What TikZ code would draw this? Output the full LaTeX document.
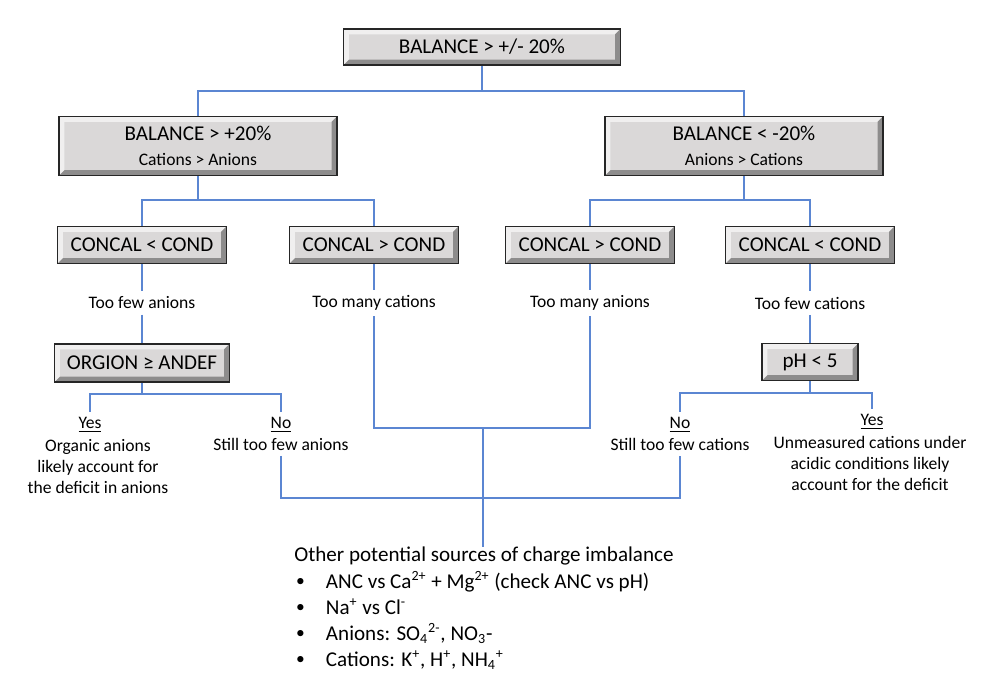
\documentclass[tikz,border=0pt]{standalone}
\usepackage{fontspec}
\setmainfont{Carlito}
\usepackage{tikz}

\definecolor{boxfill}{HTML}{DAD8D8}
\definecolor{linkblue}{HTML}{5B86D2}

\newcommand{\blt}{\makebox[18pt][l]{\hspace{1pt}\raisebox{0.6pt}{\fontsize{10}{10}\selectfont\textbullet}}}

\tikzset{
  box/.style={draw=black!85, line width=1pt, fill=boxfill, align=center,
    font=\fontsize{12}{14}\selectfont, inner sep=2pt,
    path picture={
      \coordinate (bnw) at (path picture bounding box.north west);
      \coordinate (bne) at (path picture bounding box.north east);
      \coordinate (bsw) at (path picture bounding box.south west);
      \coordinate (bse) at (path picture bounding box.south east);
      \fill[white,opacity=.6] (bnw) -- (bne) -- ([shift={(-3pt,-3pt)}]bne)
        -- ([shift={(3pt,-3pt)}]bnw) -- ([shift={(3pt,3pt)}]bsw) -- (bsw) -- cycle;
      \fill[black,opacity=.35] (bse) -- (bne) -- ([shift={(-3pt,-3pt)}]bne)
        -- ([shift={(-3pt,3pt)}]bse) -- ([shift={(3pt,3pt)}]bsw) -- (bsw) -- cycle;
    }},
  lbl/.style={align=center, font=\fontsize{10}{12}\selectfont, inner sep=3pt},
  link/.style={draw=linkblue, line width=0.6pt}
}

\begin{document}
\begin{tikzpicture}[x=0.02cm, y=-0.02cm]
    \useasboundingbox (0, 0) rectangle (992, 680);

    % decision boxes
    \node[box, minimum width=5.54cm, minimum height=0.72cm] (top) at (482, 47) {BALANCE > +/- 20\%};
    \node[box, minimum width=5.56cm, minimum height=1.18cm] (bpos) at (198, 146)
        {BALANCE > +20\%\\{\fontsize{10}{12}\selectfont Cations > Anions}};
    \node[box, minimum width=5.56cm, minimum height=1.18cm] (bneg) at (744, 146)
        {BALANCE < -20\%\\{\fontsize{10}{12}\selectfont Anions > Cations}};

    \node[box, minimum width=3.38cm, minimum height=0.74cm] (cless1) at (142, 245) {CONCAL < COND};
    \node[box, minimum width=3.38cm, minimum height=0.74cm] (cmore1) at (374, 245) {CONCAL > COND};
    \node[box, minimum width=3.38cm, minimum height=0.74cm] (cmore2) at (590, 245) {CONCAL > COND};
    \node[box, minimum width=3.38cm, minimum height=0.74cm] (cless2) at (810, 245) {CONCAL < COND};

    \node[lbl] (fewan) at (142, 303) {Too few anions};
    \node[lbl] (manycat) at (374, 303) {Too many cations};
    \node[lbl] (manyan) at (590, 303) {Too many anions};
    \node[lbl] (fewcat) at (810, 303) {Too few cations};

    \node[box, minimum width=3.5cm, minimum height=0.76cm] (orgion) at (142, 363) {ORGION ≥ ANDEF};
    \node[box, minimum width=1.92cm, minimum height=0.74cm] (ph) at (810, 362) {pH < 5};

    % outcomes
    \node[lbl] (yesan) at (90, 425) {\underline{Yes}};
    \node[lbl, anchor=north] (orgtxt) at (98, 434) {Organic anions\\likely account for\\the deficit in anions};
    \node[lbl] (noan) at (281, 425) {\underline{No}};
    \node[lbl] (stillan) at (281, 444) {Still too few anions};

    \node[lbl] (nocat) at (680, 425) {\underline{No}};
    \node[lbl] (stillcat) at (680, 444) {Still too few cations};
    \node[lbl] (yescat) at (872, 422) {\underline{Yes}};
    \node[lbl, anchor=north] (unmtxt) at (870, 431) {Unmeasured cations under\\acidic conditions likely\\account for the deficit};

    \node[anchor=north west, inner sep=0pt, align=left, font=\fontsize{12}{14.8}\selectfont] (other) at (294, 547)
        {Other potential sources of charge imbalance\\
         \blt ANC vs Ca\textsuperscript{2+} + Mg\textsuperscript{2+} (check ANC vs pH)\\
         \blt Na\textsuperscript{+} vs Cl\textsuperscript{-}\\
         \blt Anions: SO\textsubscript{4}\textsuperscript{2-}, NO\textsubscript{3}-\\
         \blt Cations: K\textsuperscript{+}, H\textsuperscript{+}, NH\textsubscript{4}\textsuperscript{+}};

    % junctions
    \coordinate (jtop) at (482, 91);
    \coordinate (jpos) at (198, 200);
    \coordinate (jneg) at (744, 200);
    \coordinate (jorg) at (142, 394);
    \coordinate (jph) at (810, 393);
    \coordinate (jmany) at (483, 428);
    \coordinate (jstill) at (483, 498);

    \draw[link] (top) -- (jtop);
    \draw[link] (bpos.north) |- (jtop) -| (bneg.north);
    \draw[link] (bpos) -- (jpos);
    \draw[link] (cless1.north) |- (jpos) -| (cmore1.north);
    \draw[link] (bneg) -- (jneg);
    \draw[link] (cmore2.north) |- (jneg) -| (cless2.north);

    \draw[link] (cless1) -- (fewan);
    \draw[link] (cmore1) -- (manycat);
    \draw[link] (cmore2) -- (manyan);
    \draw[link] (cless2) -- (fewcat);
    \draw[link] (fewan) -- (orgion);
    \draw[link] (fewcat) -- (ph);

    \draw[link] (orgion) -- (jorg);
    \draw[link] (yesan.north) |- (jorg) -| (noan.north);
    \draw[link] (ph) -- (jph);
    \draw[link] (nocat.north) |- (jph) -| (yescat.north);

    \draw[link] (manycat) |- (jmany) -| (manyan);
    \draw[link] (stillan) |- (jstill) -| (stillcat);
    \draw[link] (jmany) -- (jstill) -- (jstill |- other.north);
\end{tikzpicture}
\end{document}
